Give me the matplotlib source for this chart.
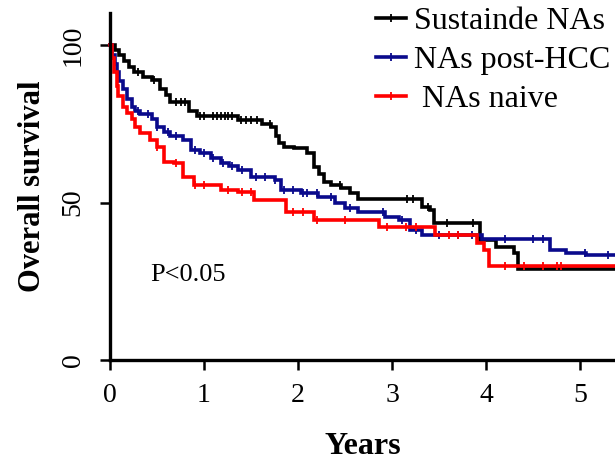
import numpy as np
import matplotlib
matplotlib.use("Agg")
import matplotlib.pyplot as plt
from matplotlib.lines import Line2D

# ---- data ----
labels = ["Sustainde NAs", "NAs post-HCC", " NAs naive"]

sust_t = [0, 0.05, 0.10, 0.15, 0.20, 0.25, 0.35, 0.45, 0.53, 0.60, 0.64, 0.80, 0.84, 0.93,
          1.36, 1.62, 1.71, 1.76, 1.80, 1.85, 1.96, 2.10, 2.17, 2.22, 2.28, 2.35, 2.46,
          2.55, 2.64, 3.32, 3.40, 3.44, 3.93, 4.10, 4.30, 4.34]
sust_s = [100, 98.5, 97, 95, 93, 91.4, 89.8, 89, 86, 84, 82, 81.8, 79, 77.6,
          76.3, 75, 74, 71, 69, 67.7, 67.2, 65.8, 61.3, 59, 56.5, 55.5, 54.6,
          53, 51.1, 48.6, 47.6, 43.4, 38, 36, 33.9, 28.8]
sust_c = [0.30, 0.47, 0.70, 0.75, 0.80, 0.96, 1.00, 1.10, 1.14, 1.18, 1.22, 1.26, 1.30,
          1.39, 1.45, 1.50, 1.56, 1.70, 2.45, 3.16, 3.22, 3.38, 3.58, 3.86]

post_t = [0, 0.02, 0.05, 0.07, 0.10, 0.14, 0.18, 0.23, 0.27, 0.32, 0.45, 0.50, 0.57, 0.64,
          0.78, 0.86, 0.96, 1.07, 1.18, 1.27, 1.36, 1.50, 1.75, 1.82, 2.03, 2.21, 2.39,
          2.50, 2.64, 2.92, 3.07, 3.19, 3.32, 3.96, 4.68, 4.85, 5.06]
post_s = [100, 97, 94, 91.4, 88.5, 86, 83, 80.5, 79, 78, 76.4, 74, 72.5, 71,
          70, 66.8, 65.8, 64.2, 62.6, 61.5, 60.4, 58.1, 57.2, 54, 53, 51.8, 49.8,
          48.2, 47, 45.4, 44.4, 41.2, 39.6, 38.3, 34.8, 34, 33.2]
post_c = [0.30, 0.40, 0.50, 0.62, 0.70, 0.90, 1.00, 1.10, 1.20, 1.30, 1.40, 1.55, 1.65,
          1.75, 1.85, 1.95, 2.05, 2.10, 2.20, 2.35, 2.55, 2.90, 3.10, 3.25, 3.50, 3.70,
          3.85, 4.20, 4.50, 4.60, 5.05, 5.30]

naive_t = [0, 0.02, 0.04, 0.07, 0.09, 0.14, 0.18, 0.23, 0.27, 0.32, 0.43, 0.50, 0.57, 0.68,
           0.78, 0.89, 1.18, 1.36, 1.53, 1.87, 2.17, 2.86, 3.46, 3.90, 3.98, 4.03]
naive_s = [100, 96, 91.4, 87, 83.7, 80.5, 78.5, 76.4, 74, 72.2, 70, 67.7, 62.9, 62.6,
           58.1, 55.6, 54, 53.4, 50.8, 47, 44.4, 42.2, 39.6, 37, 34.8, 30]
naive_c = [0.50, 0.70, 0.90, 1.00, 1.25, 1.40, 1.50, 1.95, 2.05, 2.20, 2.50, 2.95, 3.15,
           3.25, 3.60, 3.70, 4.20, 4.40, 4.60, 4.75, 4.80]

colors = ["#000000", "#0a0a8c", "#ff0000"]
x_max = 5.37

plt.rcParams['font.family'] = ['Liberation Serif', 'DejaVu Serif']

fig = plt.figure(figsize=(6.15, 4.66), dpi=100)
ax = fig.add_axes([110/615, 106/466, 1 - 110/615, (360-13)/466])

def km(ax, t, s, c, color):
    t = np.asarray(t, float); s = np.asarray(s, float)
    tt = np.append(t, x_max); ss = np.append(s, s[-1])
    ax.step(tt, ss, where='post', color=color, lw=2.6, solid_joinstyle='miter', clip_on=False)
    c = np.asarray(c, float)
    idx = np.searchsorted(t, c, side='right') - 1
    ax.plot(c, s[idx], linestyle='none', marker='|', markersize=6, mew=1.3, color=color)

for (t, s, c), col in zip([(sust_t, sust_s, sust_c), (post_t, post_s, post_c),
                           (naive_t, naive_s, naive_c)], colors):
    km(ax, t, s, c, col)

ax.set_xlim(0, x_max)
ax.set_ylim(0, 110.2)
ax.set_xticks([0, 1, 2, 3, 4, 5])
ax.set_yticks([0, 50, 100])
for sp in ['top', 'right']:
    ax.spines[sp].set_visible(False)
for sp in ['left', 'bottom']:
    ax.spines[sp].set_linewidth(2.4)
ax.tick_params(direction='out', length=7.5, width=1.8, labelsize=20)
ax.tick_params(axis='x', pad=9)
ax.tick_params(axis='y', pad=10)
for lab in ax.get_yticklabels():
    lab.set_rotation(90)
    lab.set_va('center')

ax.set_xlabel("Years", fontsize=23, fontweight='bold', labelpad=17)
ax.set_ylabel("Overall survival", fontsize=22, fontweight='bold', labelpad=10)
ax.text(0.43, 25, "P<0.05", fontsize=19)

handles = [Line2D([], [], color=c, lw=2.6, marker='|', markersize=6, mew=1.3) for c in colors]
fig.legend(handles, labels, loc='upper left', bbox_to_anchor=(376/615, 1 - 7/466), frameon=False,
           fontsize=23, handlelength=0.95, handletextpad=0.25, labelspacing=0.3,
           borderaxespad=0.0, borderpad=0.0)

fig.savefig("out.png", dpi=100)
